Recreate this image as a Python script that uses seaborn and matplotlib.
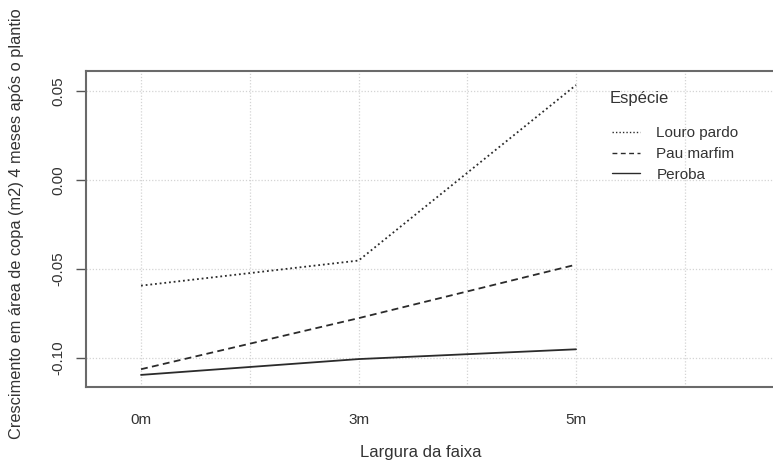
import matplotlib
matplotlib.use("Agg")
import matplotlib.pyplot as plt
import seaborn as sns
import pandas as pd
from matplotlib.ticker import MultipleLocator, FixedLocator

# Mean crown-area growth by strip width and species
larguras = ["0m", "3m", "5m"]
especies = ["Louro pardo", "Pau marfim", "Peroba"]
louro_pardo = [-0.0594, -0.0453, 0.0534]
pau_marfim = [-0.1064, -0.0777, -0.0476]
peroba = [-0.1096, -0.1007, -0.0952]

df = pd.DataFrame({
    "Largura": larguras * 3,
    "Espécie": [e for e in especies for _ in larguras],
    "Crescimento": louro_pardo + pau_marfim + peroba,
})

sns.set_theme(style="white")
plt.rcParams["font.family"] = ["Liberation Sans", "DejaVu Sans"]
plt.rcParams["font.size"] = 12

W, H = 773, 465
fig = plt.figure(figsize=(W / 100, H / 100), dpi=100)
# plot region runs past the right edge of the canvas
ax = fig.add_axes([86 / W, 1 - 387 / H, 724 / W, 316 / H])

line_col = "#2b2b2b"
sns.lineplot(
    data=df, x="Largura", y="Crescimento", style="Espécie",
    style_order=especies,
    dashes={"Louro pardo": (1, 1.6), "Pau marfim": (3.8, 2.4), "Peroba": ""},
    color=line_col, linewidth=1.3, ax=ax, legend=False, sort=False,
)

ax.set_xlim(-0.253, -0.253 + 724 / 217.5)
ax.set_ylim(-0.1164, 0.0613)

ax.xaxis.set_major_locator(FixedLocator([0, 1, 2]))
ax.set_xticklabels(larguras)
ax.xaxis.set_minor_locator(MultipleLocator(0.5))
ax.set_yticks([-0.10, -0.05, 0.00, 0.05])
ax.set_yticklabels(["-0.10", "-0.05", "0.00", "0.05"], rotation=90, va="center")

ax.grid(True, which="both", color="#d4d4d4", linestyle=(0, (1, 1.5)), linewidth=0.9)
ax.set_axisbelow(True)

ax.tick_params(axis="x", which="both", length=0, pad=19, labelcolor="#333333")
ax.tick_params(axis="y", length=7, width=1.0, color="#555555", direction="out",
               pad=8, labelcolor="#333333", left=True)

for side, sp in ax.spines.items():
    sp.set_color("#6a6a6a")
    sp.set_linewidth(1.5)

ax.set_xlabel("")
ax.set_ylabel("")
fig.text(421 / W, 1 - 452 / H, "Largura da faixa", ha="center", va="center",
         color="#333333")
fig.text(17 / W, 1 - 224 / H,
         "Crescimento em área de copa (m2) 4 meses após o plantio",
         rotation=90, ha="center", va="center", color="#333333", fontsize=11.8)

# legend
handles = [
    plt.Line2D([], [], color=line_col, linewidth=1.0, linestyle=(0, (1, 1.5))),
    plt.Line2D([], [], color=line_col, linewidth=1.0, linestyle=(0, (3.5, 2.5))),
    plt.Line2D([], [], color=line_col, linewidth=1.0),
]
fig.text(610 / W, 1 - 98 / H, "Espécie", ha="left", va="center", color="#333333")
leg = fig.legend(handles, especies, loc="upper left",
                 bbox_to_anchor=(612 / W, 1 - 126 / H), frameon=False,
                 handlelength=1.8, handletextpad=1.1, labelspacing=0.45,
                 borderpad=0, borderaxespad=0, labelcolor="#333333")

fig.savefig("out.png", dpi=100, facecolor="white")
